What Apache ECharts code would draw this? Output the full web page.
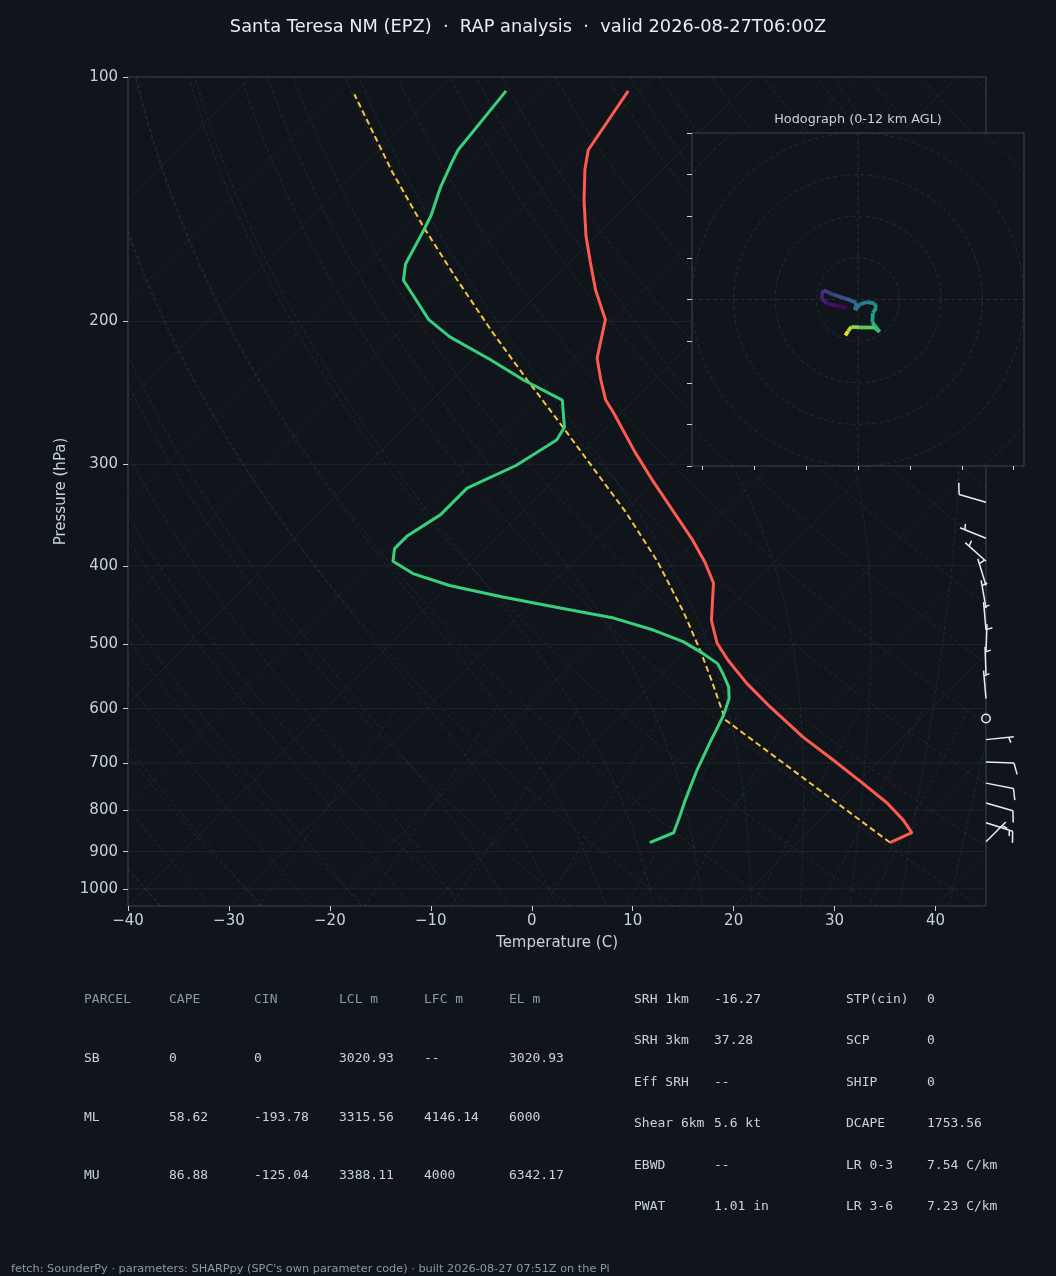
<!DOCTYPE html>
<html>
<head>
<meta charset="utf-8">
<script src="https://cdn.jsdelivr.net/npm/echarts@6/dist/echarts.min.js"></script>
<style>
  html, body { margin: 0; padding: 0; background: #10151b; }
  #chart { width: 1056px; height: 1276px; }
</style>
</head>
<body>
<div id="chart"></div>
<script>
// sounding (hPa, degC)
const tempP = [104, 123, 130, 142, 157, 169, 183, 199, 222, 236, 250, 259, 290, 314, 372, 396, 420, 467, 498, 523, 558, 597, 650, 694, 741, 784, 823, 853, 877];
const tempC = [-71.2, -69.3, -67.7, -64.7, -61.0, -58.0, -54.7, -50.8, -47.8, -45.3, -42.8, -40.8, -34.7, -30.2, -20.3, -16.9, -14.0, -10.5, -7.7, -4.9, -0.8, 3.9, 10.1, 15.4, 20.6, 25.0, 28.3, 30.4, 29.2];

const dwptP = [104, 123, 128, 137, 148, 154, 170, 178, 199, 209, 223, 236, 250, 270, 280, 301, 321, 346, 368, 381, 395, 409, 423, 437, 451, 464, 480, 496, 511, 528, 543, 564, 583, 611, 662, 714, 777, 815, 853, 877];
const dwptC = [-83.3, -82.2, -81.5, -80.2, -78.4, -77.7, -76.1, -74.7, -68.3, -64.5, -58.2, -53.0, -47.1, -44.2, -43.7, -45.2, -47.8, -47.8, -49.0, -49.0, -47.9, -44.7, -39.9, -33.5, -26.7, -20.4, -15.3, -11.2, -8.4, -5.6, -4.1, -2.2, -1.0, 0.1, 1.5, 2.9, 4.7, 5.8, 6.8, 5.4];

const parcelP = [877, 619, 602, 553, 511, 456, 395, 343, 272, 236, 205, 176, 153, 131, 105];
const parcelC = [29.2, 0.7, -0.6, -4.6, -8.4, -14.1, -21.7, -29.8, -43.9, -52.6, -61.1, -70.0, -78.0, -86.5, -98.0];

// wind barbs on the right edge
const barbP   = [875, 829, 784, 741, 698, 655, 617, 583, 545, 511, 480, 451, 423, 395, 370, 334];
const barbDir = [45, 108, 106, 101, 92, 84, 0, 355, 358, 2, 355, 350, 343, 312, 292, 286];
const barbKt  = [5, 15, 10, 10, 10, 5, 0, 5, 5, 5, 5, 5, 5, 5, 5, 10];

// hodograph trace (u, v) and height (km)
const hodoU = [-2.8, -5.2, -7.6, -8.56, -8.8, -8.24, -6.0, -2.8, -0.4, -0.72, 0.4, 2.0, 4.0, 4.4, 3.6, 3.44, 5.2, 4.0, 0.4, -1.6, -2.4, -3.04];
const hodoV = [-2.0, -1.44, -0.96, 0, 1.2, 2.24, 1.2, 0.16, -0.8, -2.56, -1.2, -0.64, -0.96, -2.0, -3.2, -5.44, -7.76, -6.72, -6.72, -6.56, -7.6, -8.64];
const hodoH = [0, 0.4, 0.8, 1.1, 1.4, 1.7, 2.4, 3.3, 4.1, 4.5, 4.8, 5.3, 5.8, 6.1, 6.5, 7.1, 7.9, 8.4, 9.4, 10.2, 11, 12];

// axis ticks
const tempTicks = [-40, -30, -20, -10, 0, 10, 20, 30, 40];
const presTicks = [100, 200, 300, 400, 500, 600, 700, 800, 900, 1000];
const hodoTicksX = [-37.5, -25, -12.5, 0, 12.5, 25, 37.5];

// table text
const tableHead = ['PARCEL', 'CAPE', 'CIN', 'LCL m', 'LFC m', 'EL m'];
const parcelRows = [
  ['SB', '0', '0', '3020.93', '--', '3020.93'],
  ['ML', '58.62', '-193.78', '3315.56', '4146.14', '6000'],
  ['MU', '86.88', '-125.04', '3388.11', '4000', '6342.17']
];
const indexNames = ['SRH 1km', 'SRH 3km', 'Eff SRH', 'Shear 6km', 'EBWD', 'PWAT'];
const indexVals = ['-16.27', '37.28', '--', '5.6 kt', '--', '1.01 in'];
const index2Names = ['STP(cin)', 'SCP', 'SHIP', 'DCAPE', 'LR 0-3', 'LR 3-6'];
const index2Vals = ['0', '0', '0', '1753.56', '7.54 C/km', '7.23 C/km'];

const BG = '#10151b';
const TXT = '#c9d1d9';
const SPINE = '#3a4552';

// skew-T geometry: 45 degree skew in pixel space
const GRID = { left: 128, top: 77, width: 858, height: 829 };
const LOGB = Math.log10(1050);
const K = (GRID.height / (LOGB - 2)) / (GRID.width / 85);
function pt(t, p) { return [t + (LOGB - Math.log10(p)) * K, Math.log10(p)]; }
function zipPts(ps, ts) { return ps.map((p, i) => pt(ts[i], p)); }

// background lines
const logLevels = [];
for (let lp = LOGB; lp >= 2 - 1e-9; lp -= 0.02) logLevels.push(Math.pow(10, lp));
logLevels.push(100);

const isobars = presTicks.map(p => ({ coords: [[-40, Math.log10(p)], [45, Math.log10(p)]] }));
const isotherms = [];
for (let t = -130; t <= 40; t += 10) isotherms.push({ coords: [pt(t, 1050), pt(t, 100)] });

const dryLines = [];
for (let th = -40; th <= 200; th += 10) {
  dryLines.push({ coords: logLevels.map(p => pt((th + 273.15) * Math.pow(p / 1000, 0.2857) - 273.15, p)) });
}

function esat(tc) { return 6.112 * Math.exp(17.67 * tc / (tc + 243.5)); }
function lapse(p, tk) {
  const es = esat(tk - 273.15);
  const rs = 0.622 * es / (p - es);
  const num = 287.04 * tk + 2.501e6 * rs;
  const den = 1005.7 + 2.501e6 * 2.501e6 * rs * 0.622 / (287.04 * tk * tk);
  return num / den / p;
}
function rk(p, t, h) {
  const k1 = lapse(p, t), k2 = lapse(p + h / 2, t + h / 2 * k1);
  const k3 = lapse(p + h / 2, t + h / 2 * k2), k4 = lapse(p + h, t + h * k3);
  return t + h / 6 * (k1 + 2 * k2 + 2 * k3 + k4);
}
const moistLines = [];
for (let t0 = -40; t0 <= 45; t0 += 5) {
  let t = t0 + 273.15;
  for (let p = 1000; p < 1050; p += 10) t = rk(p, t, 10);
  const coords = [pt(t - 273.15, 1050)];
  for (let p = 1050; p > 100; p -= 10) { t = rk(p, t, -10); coords.push(pt(t - 273.15, p - 10)); }
  moistLines.push({ coords });
}

const mixW = [0.0004, 0.001, 0.002, 0.004, 0.007, 0.01, 0.016, 0.024, 0.032];
const mixLines = mixW.map(w => {
  const coords = [];
  for (let p = 1050; p >= 600; p -= 25) {
    const l = Math.log(p * w / (0.622 + w) / 6.112);
    coords.push(pt(243.5 * l / (17.67 - l), p));
  }
  return { coords };
});

// hodograph rings and crosshair
const rings = [];
for (let r = 10; r <= 50; r += 10) {
  const c = [];
  for (let a = 0; a <= 360; a += 3) c.push([r * Math.cos(a * Math.PI / 180), r * Math.sin(a * Math.PI / 180)]);
  rings.push({ coords: c });
}
rings.push({ coords: [[-40, 0], [40, 0]] });
rings.push({ coords: [[0, -40], [0, 40]] });

const VIR = ['#440154', '#482878', '#3e4989', '#31688e', '#26828e', '#1f9e89', '#35b779', '#6ece58', '#b5de2b', '#fde725'];
function viridis(f) {
  f = Math.max(0, Math.min(1, f)) * (VIR.length - 1);
  const i = Math.min(VIR.length - 2, Math.floor(f)), k = f - i;
  const a = VIR[i], b = VIR[i + 1];
  const ch = j => Math.round(parseInt(a.substr(j, 2), 16) * (1 - k) + parseInt(b.substr(j, 2), 16) * k);
  return 'rgb(' + ch(1) + ',' + ch(3) + ',' + ch(5) + ')';
}

function barbItem(params, api) {
  const base = api.coord([api.value(0), api.value(1)]);
  const dir = api.value(2), spd = api.value(3);
  const st = { stroke: '#e6edf3', lineWidth: 1.5, fill: null };
  if (spd < 2.5) {
    return { type: 'circle', shape: { cx: base[0], cy: base[1], r: 4.2 }, style: { stroke: '#e6edf3', fill: 'none', lineWidth: 1.5 } };
  }
  const L = 28, sp = 0.125 * L, fh = 0.4 * L, fw = 0.25 * L;
  const rad = dir * Math.PI / 180;
  const dx = Math.sin(rad), dy = -Math.cos(rad);
  const px = -dy, py = dx;
  const tip = [base[0] + dx * L, base[1] + dy * L];
  const kids = [{ type: 'line', shape: { x1: base[0], y1: base[1], x2: tip[0], y2: tip[1] }, style: st }];
  const n = Math.round(spd / 5);
  const full = Math.floor(n / 2), half = n % 2;
  let off = 0;
  for (let i = 0; i < full; i++) {
    const s = [tip[0] - dx * off, tip[1] - dy * off];
    kids.push({ type: 'line', shape: { x1: s[0], y1: s[1], x2: s[0] + px * fh + dx * fw / 2, y2: s[1] + py * fh + dy * fw / 2 }, style: st });
    off += sp;
  }
  if (half) {
    if (off === 0) off = 1.5 * sp;
    const s = [tip[0] - dx * off, tip[1] - dy * off];
    kids.push({ type: 'line', shape: { x1: s[0], y1: s[1], x2: s[0] + px * fh / 2 + dx * fw / 4, y2: s[1] + py * fh / 2 + dy * fw / 4 }, style: st });
  }
  return { type: 'group', children: kids };
}

function hodoItem(params, api) {
  const i = params.dataIndex;
  if (i >= hodoU.length - 1) return null;
  const a = api.coord([hodoU[i], hodoV[i]]);
  const b = api.coord([hodoU[i + 1], hodoV[i + 1]]);
  return {
    type: 'line', z2: 5,
    shape: { x1: a[0], y1: a[1], x2: b[0], y2: b[1] },
    style: { stroke: viridis((hodoH[i] + hodoH[i + 1]) / 24), lineWidth: 3.8, lineCap: 'butt' }
  };
}

// text
const texts = [];
function txt(x, y, s, font, fill, align) {
  texts.push({ type: 'text', x: x, y: y, z: 100, style: { text: s, font: font, fill: fill, textAlign: align || 'left', textVerticalAlign: 'middle' } });
}
txt(528, 27, 'Santa Teresa NM (EPZ)  \u00b7  RAP analysis  \u00b7  valid 2026-08-27T06:00Z', '17.8px "DejaVu Sans"', '#e6edf3', 'center');
txt(858, 120, 'Hodograph (0-12 km AGL)', '12.8px "DejaVu Sans"', TXT, 'center');
const MONO = '13px "DejaVu Sans Mono"';
const colX = [84, 169, 254, 339, 424, 509];
const rowY = [1000, 1059, 1118, 1176];
tableHead.forEach((h, j) => txt(colX[j], rowY[0], h, MONO, '#8b98a9'));
parcelRows.forEach((r, i) => r.forEach((v, j) => txt(colX[j], rowY[i + 1], v, MONO, TXT)));
const idxY = [1000, 1041, 1083, 1124, 1166, 1207];
indexNames.forEach((n, i) => {
  txt(634, idxY[i], n, MONO, TXT);
  txt(714, idxY[i], indexVals[i], MONO, TXT);
  txt(846, idxY[i], index2Names[i], MONO, TXT);
  txt(927, idxY[i], index2Vals[i], MONO, TXT);
});
txt(11, 1269, 'fetch: SounderPy \u00b7 parameters: SHARPpy (SPC\'s own parameter code) \u00b7 built 2026-08-27 07:51Z on the Pi', '11.3px "DejaVu Sans"', '#8b98a9');

const chart = echarts.init(document.getElementById('chart'), null, { renderer: 'canvas' });
const font = { fontFamily: 'DejaVu Sans', fontSize: 15, color: TXT };
const nameFont = { fontFamily: 'DejaVu Sans', fontSize: 15, color: TXT };

chart.setOption({
  backgroundColor: BG,
  animation: false,
  grid: [
    { left: GRID.left, top: GRID.top, width: GRID.width, height: GRID.height, show: true, borderColor: SPINE, borderWidth: 1, backgroundColor: 'transparent', z: 0 },
    { left: 692, top: 133, width: 332, height: 333, show: true, borderColor: SPINE, borderWidth: 1, backgroundColor: BG, z: 10 }
  ],
  xAxis: [
    {
      type: 'value', gridIndex: 0, min: -40, max: 45,
      name: 'Temperature (C)', nameLocation: 'middle', nameGap: 30, nameTextStyle: nameFont,
      axisLine: { show: false, onZero: false },
      axisTick: { customValues: tempTicks, length: 5, lineStyle: { color: TXT } },
      axisLabel: Object.assign({ customValues: tempTicks, margin: 8, formatter: v => v < 0 ? '\u2212' + Math.abs(v) : String(v) }, font),
      splitLine: { show: false }
    },
    {
      type: 'value', gridIndex: 1, min: -40, max: 40, z: 11,
      axisLine: { show: false, onZero: false },
      axisTick: { customValues: hodoTicksX, length: 4, lineStyle: { color: TXT } },
      axisLabel: { show: false }, splitLine: { show: false }
    }
  ],
  yAxis: [
    {
      type: 'value', gridIndex: 0, min: 2, max: LOGB, inverse: true,
      name: 'Pressure (hPa)', nameLocation: 'middle', nameGap: 58, nameRotate: 90, nameTextStyle: nameFont,
      axisLine: { show: false, onZero: false },
      axisTick: { customValues: presTicks.map(p => Math.log10(p)), length: 5, lineStyle: { color: TXT } },
      axisLabel: Object.assign({ customValues: presTicks.map(p => Math.log10(p)), margin: 10, formatter: v => String(Math.round(Math.pow(10, v))) }, font),
      splitLine: { show: false }
    },
    {
      type: 'value', gridIndex: 1, min: -40, max: 40, interval: 10, z: 11,
      axisLine: { show: false, onZero: false },
      axisTick: { length: 5, lineStyle: { color: TXT } },
      axisLabel: { show: false }, splitLine: { show: false }
    }
  ],
  graphic: texts,
  series: [
    { type: 'lines', coordinateSystem: 'cartesian2d', polyline: true, silent: true, clip: true, z: 1,
      lineStyle: { color: '#2b333e', width: 1 }, data: isobars },
    { type: 'lines', coordinateSystem: 'cartesian2d', polyline: true, silent: true, clip: true, z: 1,
      lineStyle: { color: '#2b333e', width: 0.9 }, data: isotherms },
    { type: 'lines', coordinateSystem: 'cartesian2d', polyline: true, silent: true, clip: true, z: 1,
      lineStyle: { color: 'rgba(160,118,66,0.42)', width: 0.9, type: [4, 2.5] }, data: dryLines },
    { type: 'lines', coordinateSystem: 'cartesian2d', polyline: true, silent: true, clip: true, z: 1,
      lineStyle: { color: 'rgba(84,126,142,0.45)', width: 0.9, type: [4, 2.5] }, data: moistLines },
    { type: 'lines', coordinateSystem: 'cartesian2d', polyline: true, silent: true, clip: true, z: 1,
      lineStyle: { color: 'rgba(84,126,142,0.45)', width: 0.9, type: [3, 3] }, data: mixLines },
    { name: 'Parcel', type: 'line', showSymbol: false, clip: true, z: 3,
      lineStyle: { color: '#f5c542', width: 2, type: [6, 3.5] }, data: zipPts(parcelP, parcelC) },
    { name: 'Dewpoint', type: 'line', showSymbol: false, clip: true, z: 4,
      lineStyle: { color: '#38d07c', width: 3 }, data: zipPts(dwptP, dwptC) },
    { name: 'Temperature', type: 'line', showSymbol: false, clip: true, z: 5,
      lineStyle: { color: '#ff5a4e', width: 3 }, data: zipPts(tempP, tempC) },
    { type: 'custom', renderItem: barbItem, clip: false, z: 6, silent: true,
      data: barbP.map((p, i) => [45, Math.log10(p), barbDir[i], barbKt[i]]) },
    { type: 'lines', coordinateSystem: 'cartesian2d', xAxisIndex: 1, yAxisIndex: 1, polyline: true, silent: true, clip: true, z: 11,
      lineStyle: { color: '#364352', width: 1, type: [4, 3] }, data: rings },
    { type: 'custom', xAxisIndex: 1, yAxisIndex: 1, renderItem: hodoItem, clip: true, z: 12, silent: true,
      data: hodoU.map((u, i) => [u, hodoV[i], hodoH[i]]) }
  ]
});
</script>
</body>
</html>
